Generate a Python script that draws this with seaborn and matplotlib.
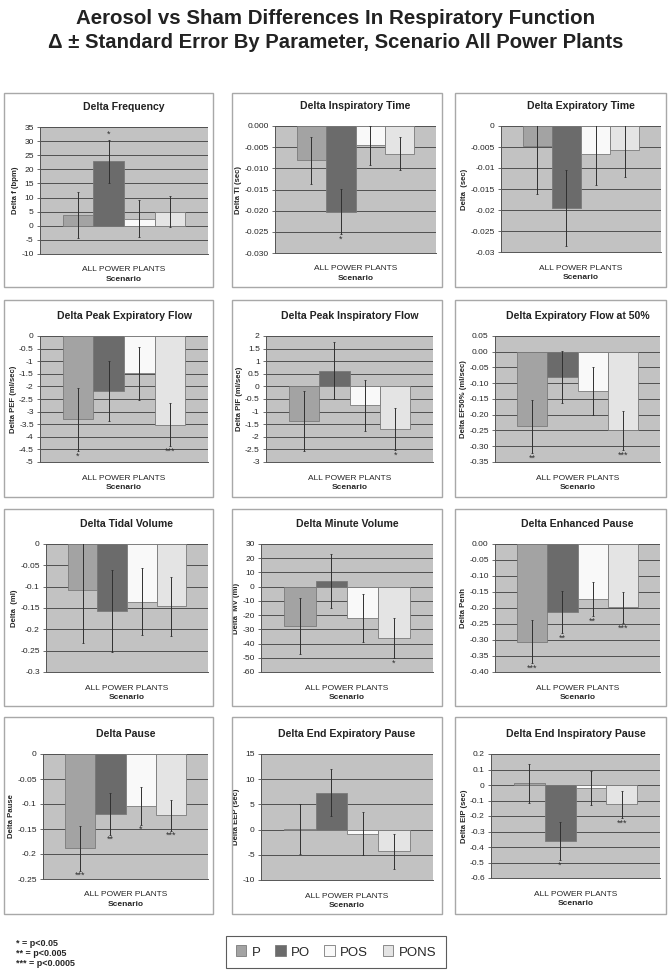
import numpy as np
import pandas as pd
import matplotlib
matplotlib.use('Agg')
import matplotlib.pyplot as plt
from matplotlib.patches import Rectangle, Patch
import seaborn as sns

# Grupos de exposicion
groups = ['P', 'PO', 'POS', 'PONS']
scenario = 'ALL POWER PLANTS'

# Valores delta (aerosol - sham), error estandar y significancia por parametro
freq_mean = [3.8, 22.8, 2.5, 5.0]
freq_se = [8.0, 7.7, 6.6, 5.4]
freq_sig = ['', '*', '', '']

ti_mean = [-0.0081, -0.0202, -0.0046, -0.0066]
ti_se = [0.0055, 0.0054, 0.0046, 0.0039]
ti_sig = ['', '*', '', '']

te_mean = [-0.0047, -0.0195, -0.0066, -0.0057]
te_se = [0.0115, 0.0090, 0.0075, 0.0065]
te_sig = ['', '', '', '']

pef_mean = [-3.30, -2.17, -1.47, -3.52]
pef_se = [1.25, 1.19, 1.05, 0.85]
pef_sig = ['*', '', '', '***']

pif_mean = [-1.37, 0.63, -0.75, -1.70]
pif_se = [1.19, 1.13, 1.02, 0.84]
pif_sig = ['', '', '', '*']

ef50_mean = [-0.237, -0.080, -0.125, -0.250]
ef50_se = [0.085, 0.082, 0.075, 0.062]
ef50_sig = ['**', '', '', '***']

tv_mean = [-0.108, -0.156, -0.135, -0.146]
tv_se = [0.124, 0.096, 0.078, 0.069]
tv_sig = ['', '', '', '']

mv_mean = [-27.5, 4.0, -22.0, -36.0]
mv_se = [19.5, 19.0, 17.0, 14.3]
mv_sig = ['', '', '', '*']

penh_mean = [-0.305, -0.212, -0.172, -0.198]
penh_se = [0.068, 0.066, 0.054, 0.048]
penh_sig = ['***', '**', '**', '***']

pause_mean = [-0.188, -0.119, -0.103, -0.122]
pause_se = [0.045, 0.042, 0.038, 0.031]
pause_sig = ['***', '**', '*', '***']

eep_mean = [0.1, 7.3, -0.8, -4.3]
eep_se = [4.9, 4.7, 4.25, 3.5]
eep_sig = ['', '', '', '']

eip_mean = [0.012, -0.360, -0.018, -0.125]
eip_se = [0.125, 0.122, 0.110, 0.089]
eip_sig = ['', '*', '', '***']

titles = ['Delta Frequency', 'Delta Inspiratory Time', 'Delta Expiratory Time',
          'Delta Peak Expiratory Flow', 'Delta Peak Inspiratory Flow', 'Delta Expiratory Flow at 50%',
          'Delta Tidal Volume', 'Delta Minute Volume', 'Delta Enhanced Pause',
          'Delta Pause', 'Delta End Expiratory Pause', 'Delta End Inspiratory Pause']
ylabels = ['Delta f (bpm)', 'Delta TI (sec)', 'Delta  (sec)',
           'Delta PEF (ml/sec)', 'Delta PIF (ml/sec)', 'Delta EF50% (ml/sec)',
           'Delta  (ml)', 'Delta  MV (ml)', 'Delta Penh',
           'Delta Pause', 'Delta EEP (sec)', 'Delta EIP (sec)']
means = [freq_mean, ti_mean, te_mean, pef_mean, pif_mean, ef50_mean,
         tv_mean, mv_mean, penh_mean, pause_mean, eep_mean, eip_mean]
ses = [freq_se, ti_se, te_se, pef_se, pif_se, ef50_se,
       tv_se, mv_se, penh_se, pause_se, eep_se, eip_se]
sigs = [freq_sig, ti_sig, te_sig, pef_sig, pif_sig, ef50_sig,
        tv_sig, mv_sig, penh_sig, pause_sig, eep_sig, eip_sig]

# Ejes: (ymin, ymax, paso, formato)
axis_cfg = [(-10, 35, 5, '{:g}'), (-0.030, 0.0, 0.005, '{:.3f}'), (-0.03, 0.0, 0.005, '{:g}'),
            (-5, 0, 0.5, '{:g}'), (-3, 2, 0.5, '{:g}'), (-0.35, 0.05, 0.05, '{:.2f}'),
            (-0.3, 0, 0.05, '{:g}'), (-60, 30, 10, '{:g}'), (-0.40, 0.0, 0.05, '{:.2f}'),
            (-0.25, 0, 0.05, '{:g}'), (-10, 15, 5, '{:g}'), (-0.6, 0.2, 0.1, '{:g}')]

# Posiciones en pixeles (x0, x1, ytop, ybot) de cada area de grafico
plot_px = [(40, 208, 127, 254), (275, 436, 126, 253), (501, 661, 126, 252),
           (40, 208, 336, 462), (266, 433, 336, 462), (495, 660, 336, 462),
           (46, 208, 544, 672), (261, 433, 544, 672), (495, 660, 544, 672),
           (43, 208, 754, 879), (261, 433, 754, 880), (491, 660, 754, 878)]
frame_cols = [(4, 213), (232, 442), (455, 666)]
frame_rows = [(93, 287), (300, 497), (509, 706), (717, 914)]

colors = ['#a3a3a3', '#6b6b6b', '#f9f9f9', '#e4e4e4']
W, H = 671, 975

sns.set_theme(style='white')
plt.rcParams['font.family'] = ['Liberation Sans', 'DejaVu Sans']
plt.rcParams['axes.unicode_minus'] = False

fig = plt.figure(figsize=(W / 100, H / 100), dpi=100)
fig.patch.set_facecolor('white')

fig.text(0.5, 1 - 19 / H, 'Aerosol vs Sham Differences In Respiratory Function',
         ha='center', va='center', fontsize=14.8, fontweight='bold', color='#222222')
fig.text(0.5, 1 - 42 / H, '\u0394 \u00b1 Standard Error By Parameter, Scenario All Power Plants',
         ha='center', va='center', fontsize=14.6, fontweight='bold', color='#222222')

# Marcos de cada panel
for (fy0, fy1) in frame_rows:
    for (fx0, fx1) in frame_cols:
        fig.patches.append(Rectangle((fx0 / W, 1 - fy1 / H), (fx1 - fx0) / W, (fy1 - fy0) / H,
                                     transform=fig.transFigure, fill=False,
                                     edgecolor='#a8a8a8', linewidth=1.0))

for i in range(12):
    x0, x1, yt, yb = plot_px[i]
    ax = fig.add_axes([x0 / W, 1 - yb / H, (x1 - x0) / W, (yb - yt) / H])
    df = pd.DataFrame({'scenario': scenario, 'group': groups, 'value': means[i]})
    sns.barplot(data=df, x='scenario', y='value', hue='group', hue_order=groups,
                palette=colors, errorbar=None, width=0.73, gap=0, edgecolor='#7a7a7a',
                linewidth=0.6, legend=False, ax=ax, zorder=3)
    ax.set_xlim(-0.5, 0.5)
    ymin, ymax, step, fmt = axis_cfg[i]
    ax.set_ylim(ymin, ymax)
    ticks = np.round(np.arange(ymin, ymax + step / 2, step), 4)
    ax.set_yticks(ticks)
    ax.set_yticklabels([fmt.format(t + 0.0) for t in ticks], fontsize=6.1)
    ax.set_facecolor('#c2c2c2')
    ax.yaxis.grid(True, color='#505050', linewidth=0.7, zorder=0)
    ax.set_axisbelow(True)
    for s in ['top', 'right']:
        ax.spines[s].set_visible(False)
    ax.spines['left'].set_color('#555555')
    ax.spines['left'].set_linewidth(0.7)
    ax.spines['bottom'].set_color('#555555')
    ax.spines['bottom'].set_linewidth(0.7)
    ax.tick_params(axis='y', length=2.5, width=0.6, color='#555555', pad=2, left=True)
    ax.tick_params(axis='x', length=0, labelsize=6, pad=9)
    ax.set_xlabel('Scenario', fontsize=6, fontweight='bold', labelpad=2)
    ax.set_ylabel(ylabels[i], fontsize=5.6, fontweight='bold', labelpad=1.5)
    ax.set_title(titles[i], fontsize=7.6, fontweight='bold', pad=12, color='#222222')

    bars = sorted(ax.patches, key=lambda p: p.get_x())
    span = ymax - ymin
    for b, m, se, sig in zip(bars, means[i], ses[i], sigs[i]):
        xc = b.get_x() + b.get_width() / 2
        ax.errorbar(xc, m, yerr=se, fmt='none', ecolor='#303030', elinewidth=0.7,
                    capsize=0.8, capthick=0.6, zorder=4)
        if sig:
            if m >= 0:
                ax.text(xc, m + se + span * 0.005, sig, ha='center', va='bottom',
                        fontsize=6.5, color='#303030', zorder=5)
            else:
                ax.text(xc, m - se - span * 0.005, sig, ha='center', va='top',
                        fontsize=6.5, color='#303030', zorder=5)

# Notas de significancia
fig.text(16 / W, 1 - 944 / H, '* = p<0.05', fontsize=6.5, fontweight='bold', va='center')
fig.text(16 / W, 1 - 954 / H, '** = p<0.005', fontsize=6.5, fontweight='bold', va='center')
fig.text(16 / W, 1 - 964 / H, '*** = p<0.0005', fontsize=6.5, fontweight='bold', va='center')

handles = [Patch(facecolor=c, edgecolor='#7a7a7a', linewidth=0.6) for c in colors]
leg = fig.legend(handles, groups, loc='center', bbox_to_anchor=(336 / W, 1 - 952 / H),
                 ncol=4, fontsize=9.5, frameon=True, fancybox=False, edgecolor='#333333',
                 handlelength=0.8, handleheight=0.9, handletextpad=0.4, columnspacing=1.1,
                 borderpad=0.75)
leg.get_frame().set_linewidth(0.8)

fig.savefig('out.png', dpi=100)
